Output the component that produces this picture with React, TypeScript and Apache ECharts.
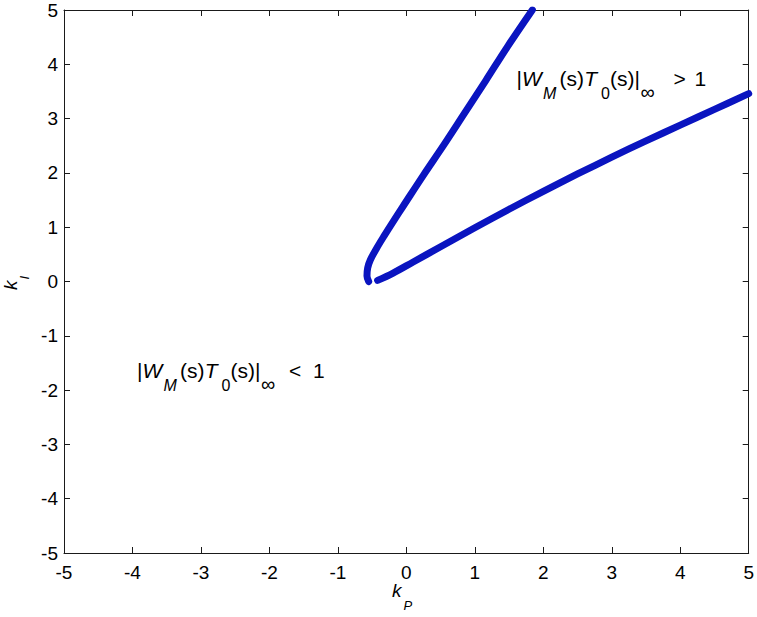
import React, { useEffect, useRef } from "react";
import * as echarts from "echarts";

// ---- data ----
const upperKp = [-0.55, -0.575, -0.565, -0.525, -0.44, -0.32, -0.195, -0.04, 0.25, 0.55, 0.85, 1.16, 1.48, 1.84];
const upperKi = [0.0, 0.1, 0.25, 0.4, 0.6, 0.85, 1.1, 1.4, 1.96, 2.52, 3.1, 3.7, 4.33, 5.0];
const lowerKp = [-0.42, -0.2, 0.1, 0.5, 1.0, 1.5, 2.0, 2.5, 3.0, 3.5, 4.0, 4.5, 5.0];
const lowerKi = [0.02, 0.15, 0.36, 0.64, 0.99, 1.33, 1.66, 1.98, 2.29, 2.59, 2.88, 3.17, 3.46];

const axisMin = -5;
const axisMax = 5;
const axisStep = 1;

// annotation text pieces: |W_M(s)T_0(s)|_inf
const normPieces = [
  { t: "|", it: false, sub: false },
  { t: "W", it: true, sub: false },
  { t: "M", it: true, sub: true },
  { t: "(s)", it: false, sub: false },
  { t: "T", it: true, sub: false },
  { t: "0", it: false, sub: true },
  { t: "(s)|", it: false, sub: false },
  { t: "\u221e", it: false, sub: true },
];
const upperRegionRel = ">";
const lowerRegionRel = "<";
const relValue = "1";
const xName = { main: "k", sub: "P" };
const yName = { main: "k", sub: "I" };

// ---- layout ----
const FONT = '"Liberation Sans", Arial, Helvetica, sans-serif';
const pieceOffsets = [-1, 4.5, 25.5, 42, 66.8, 83.5, 92.5, 123];
const pieceSizes = [21, 21, 16, 21, 21, 16, 21, 20];
const MAIN = 21;
const SUB_DROP = 13;
const LINE_COLOR = "#0a14c0";

function txt(x: number, baseline: number, text: string, size: number, italic: boolean) {
  return {
    type: "text",
    silent: true,
    style: {
      text,
      x,
      y: baseline - 0.3465 * size,
      font: `${italic ? "italic " : ""}${size}px ${FONT}`,
      fill: "#000",
      align: "left",
      verticalAlign: "middle",
      textAlign: "left",
      textVerticalAlign: "middle",
    },
  };
}

function normLabel(x0: number, baseline: number, rel: string, relOff: number, oneOff: number) {
  const els: any[] = normPieces.map((p, i) =>
    txt(x0 + pieceOffsets[i], p.sub ? baseline + SUB_DROP : baseline, p.t, pieceSizes[i], p.it)
  );
  els.push(txt(x0 + relOff, baseline, rel, MAIN, false));
  els.push(txt(x0 + oneOff, baseline, relValue, MAIN, false));
  return els;
}

export default function App() {
  const ref = useRef<HTMLDivElement>(null);
  useEffect(() => {
    if (!ref.current) return;
    const chart = echarts.init(ref.current, undefined, { renderer: "svg" });

    const axisCommon = {
      type: "value",
      min: axisMin,
      max: axisMax,
      interval: axisStep,
      splitLine: { show: false },
      axisLine: { show: true, onZero: false, lineStyle: { color: "#1a1a1a", width: 1 } },
      axisTick: { show: true, inside: true, length: 6, lineStyle: { color: "#1a1a1a", width: 1 } },
    };
    const labelCommon = { color: "#000", fontSize: 19, fontFamily: FONT };

    const graphic: any[] = [
      ...normLabel(517.5, 86, upperRegionRel, 156, 177),
      ...normLabel(138, 377.7, lowerRegionRel, 151, 175),
      txt(392, 597, xName.main, 19, true),
      txt(403.5, 610, xName.sub, 13, true),
      {
        type: "group",
        x: 17,
        y: 290,
        rotation: Math.PI / 2,
        children: [txt(0, 0, yName.main, 19, true), txt(10.5, 11.5, yName.sub, 13, true)],
      },
    ];

    chart.setOption({
      animation: false,
      backgroundColor: "#fff",
      grid: { left: 64, right: 6, top: 10, bottom: 64, containLabel: false },
      xAxis: [
        { ...axisCommon, position: "bottom", axisLabel: { ...labelCommon, margin: 10 } },
        { ...axisCommon, position: "top", axisLabel: { show: false } },
      ],
      yAxis: [
        { ...axisCommon, position: "left", axisLabel: { ...labelCommon, margin: 6 } },
        { ...axisCommon, position: "right", axisLabel: { show: false } },
      ],
      graphic,
      series: [
        {
          type: "line",
          xAxisIndex: 0,
          yAxisIndex: 0,
          data: upperKp.map((x, i) => [x, upperKi[i]]),
          symbol: "none",
          showSymbol: false,
          smooth: 0.35,
          clip: true,
          lineStyle: { color: LINE_COLOR, width: 7, cap: "round", join: "round" },
        },
        {
          type: "line",
          xAxisIndex: 0,
          yAxisIndex: 0,
          data: lowerKp.map((x, i) => [x, lowerKi[i]]),
          symbol: "none",
          showSymbol: false,
          smooth: 0.35,
          clip: true,
          lineStyle: { color: LINE_COLOR, width: 7, cap: "round", join: "round" },
        },
      ],
    });
    return () => chart.dispose();
  }, []);

  return (
    <div
      ref={ref}
      style={{ position: "fixed", left: 0, top: 0, width: 757, height: 617, background: "#fff" }}
    />
  );
}
